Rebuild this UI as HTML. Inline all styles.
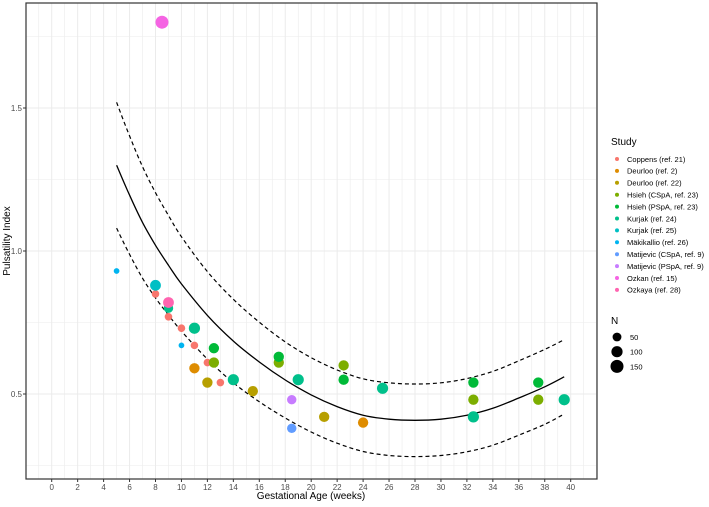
<!DOCTYPE html>
<html><head><meta charset="utf-8"><style>
body{margin:0;background:#fff;font-family:"Liberation Sans",sans-serif}
svg text{font-family:"Liberation Sans",sans-serif}
</style></head><body>
<svg id="chart" width="709" height="502" xmlns="http://www.w3.org/2000/svg">
<g id="grid"></g>
<g id="curves"></g>
<g id="points"></g>
<rect x="26" y="3" width="571" height="476" fill="none" stroke="#333" stroke-width="1.2"/>
<g id="axes"></g>
<text x="311" y="499" font-size="10" text-anchor="middle">Gestational Age (weeks)</text>
<text transform="translate(10,241) rotate(-90)" font-size="10" text-anchor="middle">Pulsatility Index</text>
<g id="legend"></g>
</svg>
<script>
const studies=["Coppens (ref. 21)","Deurloo (ref. 2)","Deurloo (ref. 22)","Hsieh (CSpA, ref. 23)","Hsieh (PSpA, ref. 23)","Kurjak (ref. 24)","Kurjak (ref. 25)","Mäkikallio (ref. 26)","Matijevic (CSpA, ref. 9)","Matijevic (PSpA, ref. 9)","Ozkan (ref. 15)","Ozkaya (ref. 28)"];
const colors=["#F8766D","#DE8C00","#B79F00","#7CAE00","#00BA38","#00C08B","#00BFC4","#00B4F0","#619CFF","#C77CFF","#F564E3","#FF64B0"];
const ptStudy=[0,0,0,0,0,0,1,1,2,2,2,3,3,3,3,3,4,4,4,4,4,5,5,5,5,5,5,5,6,7,7,8,9,10,11];
const ptX=[8,9,10,11,12,13,11,24,12,15.5,21,12.5,17.5,22.5,32.5,37.5,12.5,17.5,22.5,32.5,37.5,9,11,14,19,25.5,32.5,39.5,8,5,10,18.5,18.5,8.5,9];
const ptY=[0.85,0.77,0.73,0.67,0.61,0.54,0.59,0.40,0.54,0.51,0.42,0.61,0.61,0.60,0.48,0.48,0.66,0.63,0.55,0.54,0.54,0.80,0.73,0.55,0.55,0.52,0.42,0.48,0.88,0.93,0.67,0.38,0.48,1.80,0.82];
const ptN=[30,30,30,30,30,30,80,80,80,80,80,80,80,80,80,80,80,80,80,80,80,60,100,100,100,100,100,100,90,10,10,60,60,150,90];
const curveX=[5,6,7,8,9,10,12,14,16,18,20,22,24,26,28,30,32,34,36,38,39.5];
const curveY=[1.30,1.195,1.10,1.02,0.95,0.885,0.775,0.685,0.612,0.549,0.497,0.456,0.426,0.412,0.408,0.412,0.426,0.45,0.486,0.525,0.56];
const halfW=[0.22,0.207,0.195,0.184,0.174,0.165,0.153,0.146,0.139,0.133,0.13,0.128,0.127,0.127,0.127,0.127,0.128,0.129,0.13,0.131,0.13];
const xTicks=[0,2,4,6,8,10,12,14,16,18,20,22,24,26,28,30,32,34,36,38,40];
const yTicks=[0.5,1.0,1.5];
const yTickLabels=["0.5","1.0","1.5"];
const sizeN=[50,100,150];
const NS="http://www.w3.org/2000/svg";
const sx=v=>51.7+v*12.975, sy=v=>394-(v-0.5)*286;
const rr=n=>1.6+Math.sqrt(n)*0.4;
function mk(t,a,p){const e=document.createElementNS(NS,t);for(const k in a)e.setAttribute(k,a[k]);p.appendChild(e);return e;}
const grid=document.getElementById('grid');
for(let v=-1;v<=42;v++){const g=mk('line',{x1:sx(v),x2:sx(v),y1:3,y2:479,stroke:'#ebebeb','stroke-width':v%2==0?1:0.6},grid);}
for(let v=0.25;v<=2.0;v+=0.25){const g=mk('line',{x1:26,x2:597,y1:sy(v),y2:sy(v),stroke:'#ebebeb','stroke-width':(v*4)%2==0?1:0.6},grid);}
const cv=document.getElementById('curves');
function path(arr){
  const p=arr.map((y,i)=>[sx(curveX[i]),sy(y)]);
  let d='M'+p[0][0].toFixed(1)+','+p[0][1].toFixed(1);
  for(let i=0;i<p.length-1;i++){const p0=p[i-1]||p[i],p1=p[i],p2=p[i+1],p3=p[i+2]||p2;
    const c1x=p1[0]+(p2[0]-p0[0])/6,c1y=p1[1]+(p2[1]-p0[1])/6,c2x=p2[0]-(p3[0]-p1[0])/6,c2y=p2[1]-(p3[1]-p1[1])/6;
    d+='C'+c1x.toFixed(1)+','+c1y.toFixed(1)+' '+c2x.toFixed(1)+','+c2y.toFixed(1)+' '+p2[0].toFixed(1)+','+p2[1].toFixed(1);}
  return d;}
const c1=mk('path',{d:path(curveY),fill:'none',stroke:'#000','stroke-width':1.3},cv);


const c2=mk('path',{d:path(curveY.map((y,i)=>y+halfW[i])),fill:'none',stroke:'#000','stroke-width':1.2,'stroke-dasharray':'4,3'},cv);


const c3=mk('path',{d:path(curveY.map((y,i)=>y-halfW[i])),fill:'none',stroke:'#000','stroke-width':1.2,'stroke-dasharray':'4,3'},cv);


const pg=document.getElementById('points');
ptX.forEach((x,i)=>{const c=mk('circle',{cx:sx(x),cy:sy(ptY[i]),r:rr(ptN[i]),fill:colors[ptStudy[i]]},pg);

});
const ax=document.getElementById('axes');
xTicks.forEach(v=>{mk('line',{x1:sx(v),x2:sx(v),y1:479,y2:482,stroke:'#333'},ax);const t=mk('text',{x:sx(v),y:490,'font-size':8,'text-anchor':'middle',fill:'#4d4d4d'},ax);t.textContent=v;

});
yTicks.forEach((v,i)=>{mk('line',{x1:23,x2:26,y1:sy(v),y2:sy(v),stroke:'#333'},ax);const t=mk('text',{x:22,y:sy(v)+3,'font-size':8,'text-anchor':'end',fill:'#4d4d4d'},ax);t.textContent=yTickLabels[i];

});
const lg=document.getElementById('legend');
const st=mk('text',{x:611,y:145,'font-size':10},lg);st.textContent='Study';


studies.forEach((s,i)=>{const y=159+i*11.9;
const d=mk('circle',{cx:617,cy:y,r:2,fill:colors[i]},lg);


const t=mk('text',{x:627,y:y+2.8,'font-size':7.5},lg);t.textContent=s;

});
const nt=mk('text',{x:611,y:324,'font-size':10},lg);nt.textContent='N';


sizeN.forEach((n,i)=>{const y=337+i*14.7;
const d=mk('circle',{cx:617,cy:y,r:rr(n),fill:'#000'},lg);


const t=mk('text',{x:630,y:y+3,'font-size':7.5},lg);t.textContent=n;

});
</script>
</body></html>
